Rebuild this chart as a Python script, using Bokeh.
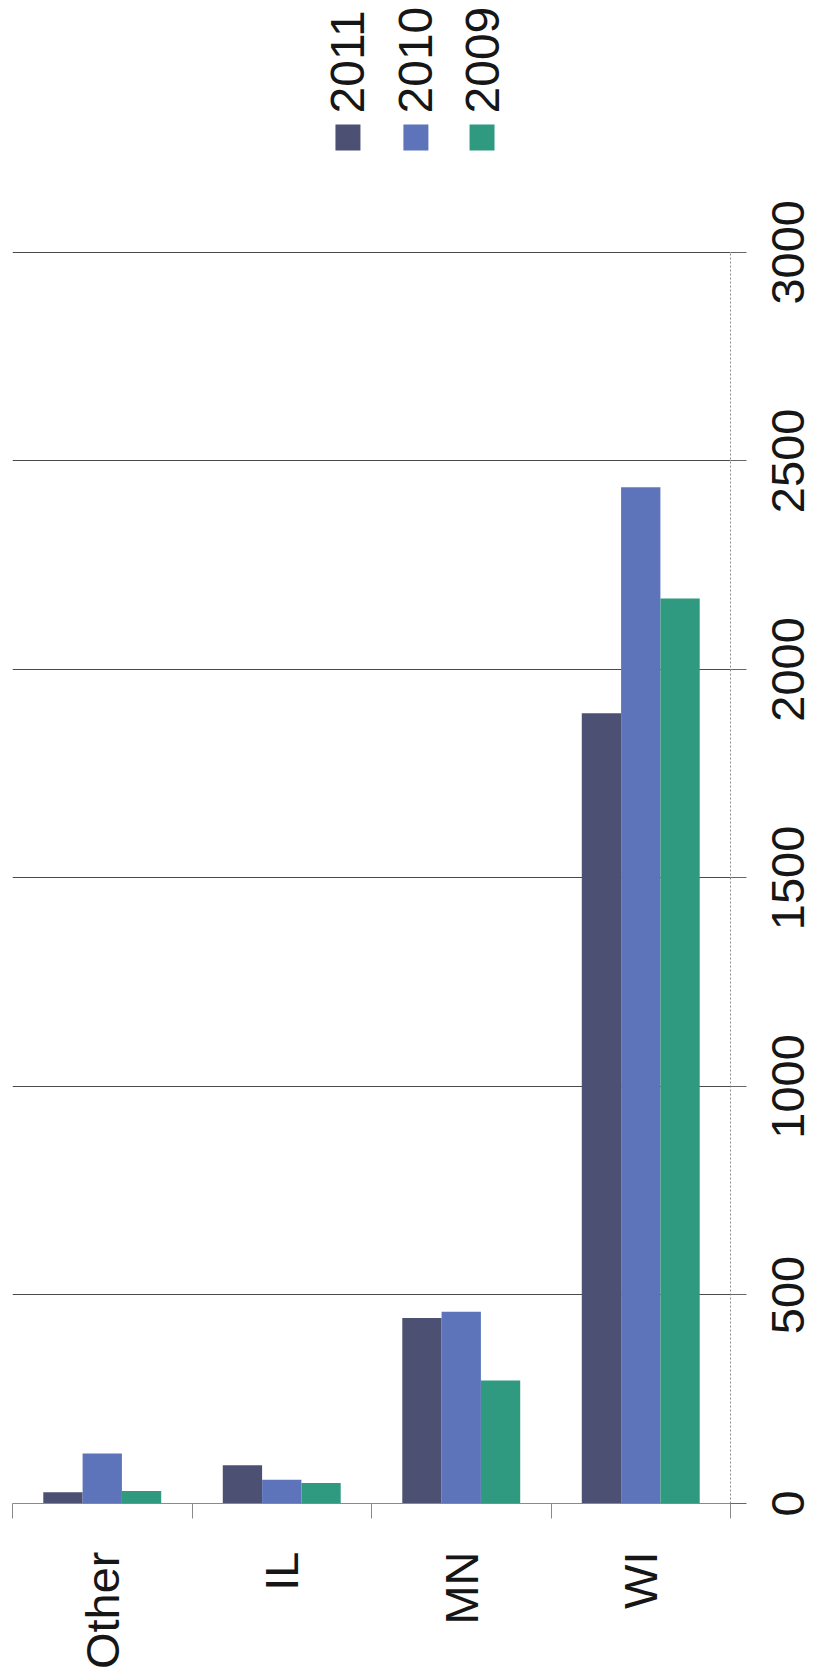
import math
from bokeh.plotting import figure
from bokeh.layouts import row, column
from bokeh.models import Range1d, FixedTicker
from bokeh.core.properties import value
from bokeh.embed import file_html
from bokeh.resources import INLINE

# ---- data ----
categories = ["Other", "IL", "MN", "WI"]
years = ["2011", "2010", "2009"]
v2011 = [27, 92, 445, 1895]
v2010 = [120, 57, 460, 2437]
v2009 = [30, 49, 295, 2170]
y_ticks = [0, 500, 1000, 1500, 2000, 2500, 3000]
y_tick_labels = [str(t) for t in y_ticks]
colors = ["#4c5173", "#5d74ba", "#2f9a80"]

FONT = "Liberation Sans"
TXT = "#161616"

# ---- layout constants (pixels) ----
TOTAL_H = 1677
LEG_H = 251            # legend strip above the plot
MAIN_W = 747
LAB_W = 817 - MAIN_W   # strip that holds the rotated value labels
FRAME_W, FRAME_H = 718, 1252
Y_END = 3002
FRAME_BOTTOM_PX = LEG_H + FRAME_H   # 1503

n = len(categories)
centers = [i + 0.5 for i in range(n)]
bounds = [float(i) for i in range(n + 1)]

# ---------------- main plot ----------------
p = figure(x_range=Range1d(0, n), y_range=Range1d(0, Y_END),
           width=MAIN_W, height=TOTAL_H - LEG_H,
           frame_width=FRAME_W, frame_height=FRAME_H,
           min_border_left=12, min_border_right=MAIN_W - 12 - FRAME_W,
           min_border_top=0, min_border_bottom=TOTAL_H - LEG_H - FRAME_H,
           y_axis_location="right",
           toolbar_location=None, output_backend="svg")
p.outline_line_color = None
p.background_fill_color = "white"
p.border_fill_color = "white"

bw = 0.219
offsets = [-bw, 0.0, bw]
for yr, vals, off, col in zip(years, [v2011, v2010, v2009], offsets, colors):
    p.vbar(x=[c + off for c in centers], top=vals, width=bw, bottom=0,
           fill_color=col, line_color=None)

yax = p.yaxis[0]
yax.ticker = FixedTicker(ticks=y_ticks)
yax.major_tick_in = 0
yax.major_tick_out = 16
yax.major_tick_line_color = "#666666"
yax.minor_tick_line_color = None
yax.axis_line_color = "#8a8a8a"
yax.axis_line_dash = "2 2"
yax.major_label_standoff = 0
yax.major_label_text_font_size = "0px"
yax.major_label_overrides = {t: "" for t in y_ticks}

p.ygrid.ticker = FixedTicker(ticks=y_ticks)
p.ygrid.grid_line_color = "#4a4a4a"
p.ygrid.grid_line_width = 1
p.xgrid.grid_line_color = None

xax = p.xaxis[0]
xax.ticker = FixedTicker(ticks=centers, minor_ticks=bounds)
xax.major_label_overrides = {c: name for c, name in zip(centers, categories)}
xax.major_tick_in = 0
xax.major_tick_out = 0
xax.minor_tick_in = 0
xax.minor_tick_out = 15
xax.minor_tick_line_color = "#8a8a8a"
xax.axis_line_color = "#8a8a8a"
xax.major_label_orientation = math.pi / 2
xax.major_label_text_font = FONT
xax.major_label_text_font_size = "47px"
xax.major_label_text_color = TXT
xax.major_label_standoff = 33

# ---------------- value labels strip (right) ----------------
px_per_unit = FRAME_H / Y_END
lab = figure(x_range=Range1d(0, LAB_W),
             y_range=Range1d(-(TOTAL_H - FRAME_BOTTOM_PX) / px_per_unit,
                             FRAME_BOTTOM_PX / px_per_unit),
             width=LAB_W, height=TOTAL_H, min_border=0,
             x_axis_location=None, y_axis_location=None,
             toolbar_location=None, output_backend="svg")
lab.outline_line_color = None
lab.grid.grid_line_color = None
lab.text(x=[40.5] * len(y_ticks), y=y_ticks, text=y_tick_labels,
         angle=math.pi / 2, text_align="center", text_baseline="middle",
         text_font=value(FONT), text_font_size=value("47px"), text_color=TXT)

# ---------------- legend strip (top) ----------------
leg = figure(x_range=Range1d(0, MAIN_W), y_range=Range1d(0, LEG_H),
             width=MAIN_W, height=LEG_H, min_border=0,
             x_axis_location=None, y_axis_location=None,
             toolbar_location=None, output_backend="svg")
leg.outline_line_color = None
leg.grid.grid_line_color = None
leg_x = [349, 419.7, 488.5]
leg.rect(x=leg_x, y=[LEG_H - 137] * 3, width=26, height=26,
         fill_color=colors, line_color=None)
leg.text(x=leg_x, y=[LEG_H - 113] * 3, text=years, angle=math.pi / 2,
         text_align="left", text_baseline="middle",
         text_font=value(FONT), text_font_size=value("48px"), text_color=TXT)

layout = row(column(leg, p), lab)
open("out.html", "w").write(file_html(layout, INLINE))
